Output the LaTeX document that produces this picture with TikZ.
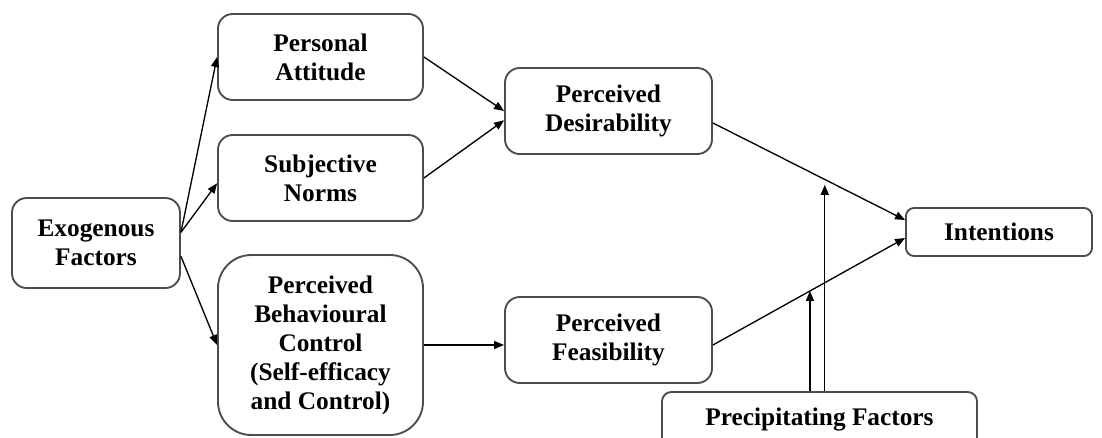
\documentclass[tikz,border=0pt]{standalone}
\usepackage{fontspec}
\setmainfont{Liberation Serif}
\usetikzlibrary{arrows.meta}
\begin{document}
\begin{tikzpicture}[x=0.75pt, y=-0.75pt,
    box/.style={rectangle, draw=black!70, line width=1.4pt, rounded corners=11pt, fill=white,
        align=center, inner sep=0pt, font=\fontsize{19}{21.75}\selectfont\bfseries,
        minimum width=153.75pt, minimum height=64.5pt},
    arr/.style={draw=black, line width=1pt, -{Triangle[length=7.5pt, width=6pt]}}]
    \useasboundingbox (0,0) rectangle (1102,438);
    \clip (0,0) rectangle (1102,438);
    \node[box, minimum width=126pt, minimum height=67.5pt] (exo) at (96, 243) {Exogenous\\Factors};
    \node[box] (att) at (320.5, 57) {Personal\\Attitude};
    \node[box] (norm) at (320.5, 178) {Subjective\\Norms};
    \node[box, minimum height=135pt, rounded corners=25pt] (pbc) at (320.5, 345)
        {Perceived\\Behavioural\\Control\\(Self-efficacy\\and Control)};
    \node[box, minimum width=155.25pt] (des) at (608.5, 111) {Perceived\\Desirability};
    \node[box, minimum width=155.25pt] (fea) at (608.5, 340) {Perceived\\Feasibility};
    \node[box, minimum width=139.5pt, minimum height=36pt, rounded corners=6pt] (int) at (999, 232) {Intentions};
    \node[box, minimum width=236.25pt, minimum height=42pt, rounded corners=7pt] (prec) at (819.5, 420) {Precipitating Factors};
    \draw[arr] ([yshift=8pt]exo.east) -- (att.west);
    \draw[arr] ([yshift=8pt]exo.east) -- ([yshift=-4pt]norm.west);
    \draw[arr] ([yshift=-10pt]exo.east) -- (pbc.west);
    \draw[arr] (att.east) -- (des.west);
    \draw[arr] (norm.east) -- ([yshift=-7pt]des.west);
    \draw[arr] (pbc.east) -- (pbc.east -| fea.west);
    \draw[arr] ([yshift=-9pt]des.east) -- coordinate[pos=0.582] (ondes) ([yshift=9pt]int.west);
    \draw[arr] ([yshift=-3.75pt]fea.east) -- coordinate[pos=0.505] (onfea) ([yshift=-4.5pt]int.west);
    \draw[arr, shorten >=4pt] (prec.north -| ondes) -- (ondes);
    \draw[arr] (prec.north -| onfea) -- (onfea);
\end{tikzpicture}
\end{document}
